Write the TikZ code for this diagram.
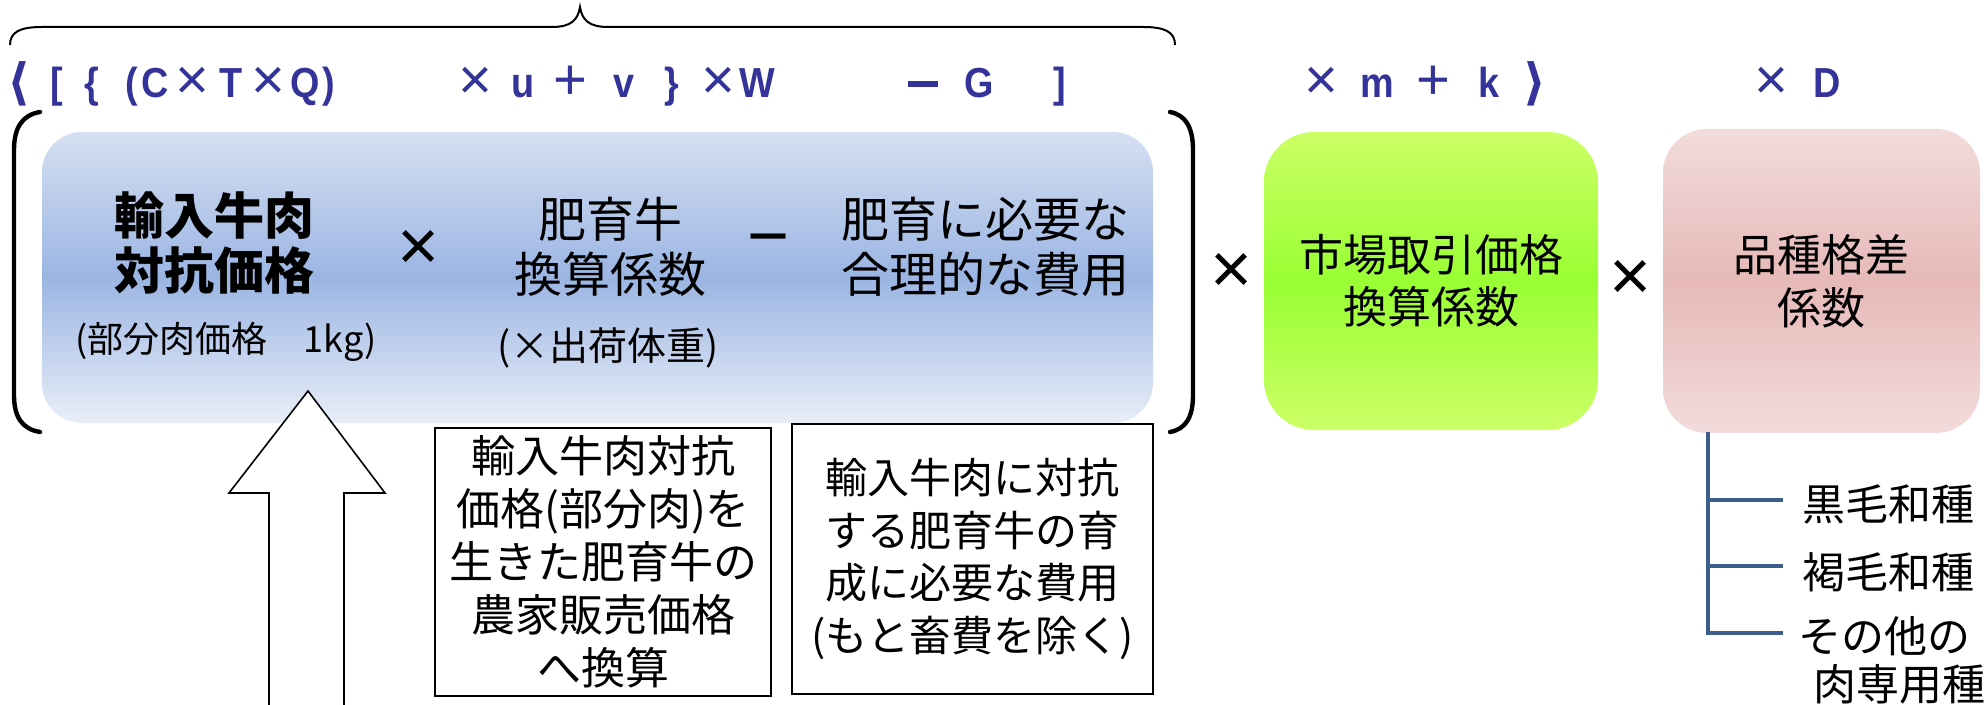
\documentclass[tikz,border=0pt]{standalone}
\usepackage{fontspec}
\setmainfont{Noto Sans CJK JP}
\newfontfamily\lat[FakeStretch=0.9]{Liberation Sans}
\newfontfamily\opf{Liberation Sans}
\newfontfamily\djv{DejaVu Sans}
\definecolor{fblue}{RGB}{51,51,153}
\definecolor{treeblue}{RGB}{59,94,140}
\definecolor{bluetop}{RGB}{214,224,242}
\definecolor{bluemid}{RGB}{155,181,227}
\definecolor{bluebot}{RGB}{233,238,248}
\definecolor{greentop}{RGB}{204,255,102}
\definecolor{greenmid}{RGB}{153,255,51}
\definecolor{pinktop}{RGB}{242,220,219}
\definecolor{pinkmid}{RGB}{230,185,184}
\tikzset{
  fml/.style={text=fblue, font=\lat\bfseries\fontsize{21}{21}\selectfont, anchor=base, inner sep=0pt},
  fmlop/.style={text=fblue, font=\opf\fontsize{29}{29}\selectfont, inner sep=0pt},
  fmlang/.style={text=fblue, font=\djv\bfseries\fontsize{25}{25}\selectfont, inner sep=0pt},
  optxt/.style={font=\opf\fontsize{36}{36}\selectfont, inner sep=0pt},
  bigtxt/.style={font=\fontsize{24}{27.5}\selectfont, align=center, inner sep=0pt},
  smalltxt/.style={font=\fontsize{18}{20}\selectfont, inner sep=0pt},
  notebox/.style={draw=black, line width=1pt, fill=white, align=center, inner sep=0pt},
  leaf/.style={font=\fontsize{21.5}{24}\selectfont, inner sep=0pt},
  treeline/.style={draw=treeblue, line width=2.4pt},
  bracketline/.style={draw=black, line width=2.2pt, line cap=round},
}
\begin{document}
\begin{tikzpicture}[x=0.5pt,y=-0.5pt]
\useasboundingbox (0,0) rectangle (1985,705);
% top brace
\draw[line width=1pt] (10,45) .. controls (10,32) and (20,27) .. (42,27) -- (552,27)
  .. controls (571,27) and (578,20) .. (580,7) .. controls (582,20) and (589,27) .. (608,27)
  -- (1143,27) .. controls (1165,27) and (1175,32) .. (1175,45);
% formula
\node[fmlang] (f1) at (19,84) {⟨};
\node[fml] (f2) at (57,98) {[};
\node[fml] (f3) at (92,98) {\{};
\node[fml] (f4) at (132,98) {(};
\node[fml] (f5) at (155,98) {C};
\node[fmlop] (f6) at (192,83) {×};
\node[fml] (f7) at (231,98) {T};
\node[fmlop] (f8) at (268,83) {×};
\node[fml] (f9) at (305,98) {Q};
\node[fml] (f10) at (329,98) {)};
\node[fmlop] (f11) at (475,83) {×};
\node[fml] (f12) at (523,98) {u};
\node[fmlop] (f13) at (570,83) {+};
\node[fml] (f14) at (624,98) {v};
\node[fml] (f15) at (672,98) {\}};
\node[fmlop] (f16) at (718,83) {×};
\node[fml] (f17) at (757,98) {W};
\node[fmlop, minimum height=6pt] (f18) at (923,84) {\rule{15pt}{2.6pt}};
\node[fml] (f19) at (979,98) {G};
\node[fml] (f20) at (1060,98) {]};
\node[fmlop] (f21) at (1321,83) {×};
\node[fml] (f22) at (1377,98) {m};
\node[fmlop] (f23) at (1433,83) {+};
\node[fml] (f24) at (1489,98) {k};
\node[fmlang] (f25) at (1535,84) {⟩};
\node[fmlop] (f26) at (1771,83) {×};
\node[fml] (f27) at (1827,98) {D};
% big brackets
\draw[bracketline] (40,112) .. controls (22,115) and (14,128) .. (14,150) -- (14,395) .. controls (14,417) and (22,429) .. (40,432);
\draw[bracketline] (1170,112) .. controls (1186,115) and (1193,128) .. (1193,150) -- (1193,395) .. controls (1193,417) and (1186,429) .. (1170,432);
% blue box
\node[minimum width=555.5pt, minimum height=145.5pt, rounded corners=20pt, inner sep=0pt,
  shade, top color=bluetop, bottom color=bluebot, middle color=bluemid] (blue) at (597.5,277.5) {};
\node[bigtxt, font=\bfseries\fontsize{25}{27.5}\selectfont] (imp) at (214,243) {輸入牛肉\\対抗価格};
\node[smalltxt] (imps) at (226,342) {(部分肉価格　1kg)};
\node[optxt] (x1) at (419,250) {×};
\node[bigtxt] (fat) at (610,247) {肥育牛\\換算係数};
\node[smalltxt, font=\fontsize{19.5}{21}\selectfont] (fats) at (608,348) {(×出荷体重)};
\node[optxt] (m1) at (769,247) {−};
\node[bigtxt] (cost) at (985,247) {肥育に必要な\\合理的な費用};
% green and pink boxes
\node[optxt] (x2) at (1232,273) {×};
\node[minimum width=167pt, minimum height=149pt, rounded corners=25pt, inner sep=0pt,
  shade, top color=greentop, bottom color=greentop, middle color=greenmid,
  font=\fontsize{22}{26}\selectfont, align=center] (mkt) at (1431,281) {市場取引価格\\換算係数};
\node[optxt] (x3) at (1630,280) {×};
\node[minimum width=158.5pt, minimum height=152pt, rounded corners=22pt, inner sep=0pt,
  shade, top color=pinktop, bottom color=pinktop, middle color=pinkmid,
  font=\fontsize{22}{26.5}\selectfont, align=center] (brd) at (1821.5,281) {品種格差\\係数};
% block arrow
\draw[line width=0.8pt, fill=white, line join=miter] (269,710) -- (269,493) -- (229,493) -- (308,391) -- (385,493) -- (344,493) -- (344,710);
% note boxes
\node[notebox, minimum width=168pt, minimum height=134pt, font=\fontsize{22}{26.5}\selectfont] (n1) at (603,562)
  {輸入牛肉対抗\\価格(部分肉)を\\生きた肥育牛の\\農家販売価格\\へ換算};
\node[notebox, minimum width=180.5pt, minimum height=135pt, font=\fontsize{21}{26.3}\selectfont] (n2) at (972.5,559)
  {輸入牛肉に対抗\\する肥育牛の育\\成に必要な費用\\(もと畜費を除く)};
% tree
\coordinate (t0) at (1708,432);
\coordinate (t1) at (1708,500);
\coordinate (t2) at (1708,566);
\coordinate (t3) at (1708,633);
\coordinate (e1) at (1783,500);
\coordinate (e2) at (1783,566);
\coordinate (e3) at (1783,633);
\draw[treeline] (t0) -- (t3) -- (e3);
\draw[treeline] (t1) -- (e1);
\draw[treeline] (t2) -- (e2);
\node[leaf] (l1) at (1888,504) {黒毛和種};
\node[leaf] (l2) at (1888,572) {褐毛和種};
\node[leaf, anchor=west] (l3) at (1798,636) {その他の};
\node[leaf, anchor=west] (l4) at (1813,684) {肉専用種};
\end{tikzpicture}
\end{document}
